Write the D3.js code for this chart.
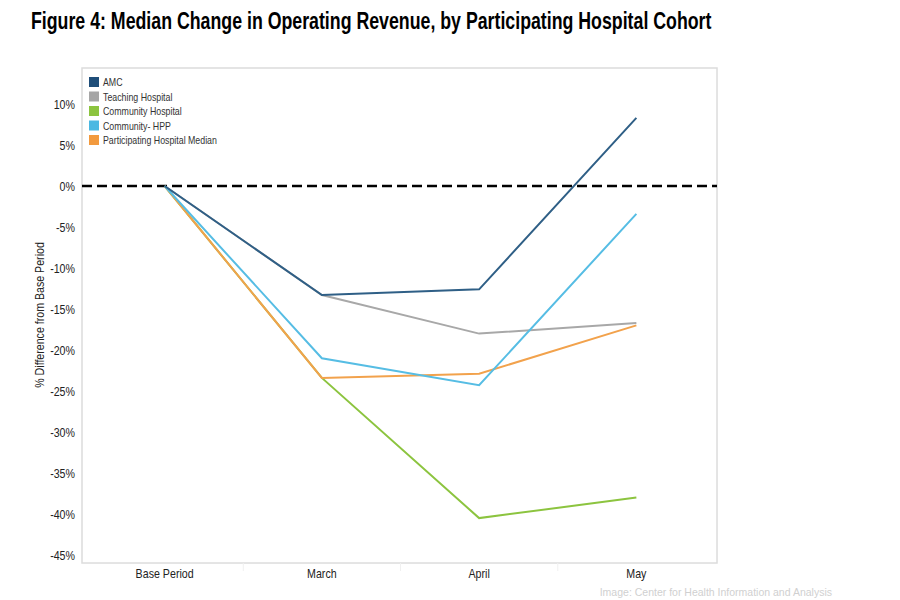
<!DOCTYPE html>
<html><head><meta charset="utf-8">
<script src="https://cdn.jsdelivr.net/npm/d3@7/dist/d3.min.js"></script>
<style>
body{margin:0;background:#fff;}
text{font-family:"Liberation Sans Narrow","Arial Narrow","Liberation Sans",Arial,sans-serif;}
</style></head><body>
<svg id="c" width="900" height="600"></svg>
<script>
const categories = ["Base Period","March","April","May"];
const seriesNames = ["AMC","Teaching Hospital","Community Hospital","Community- HPP","Participating Hospital Median"];
const amc = [0, -13.3, -12.6, 8.3];
const teaching = [0, -13.3, -18.0, -16.7];
const community = [0, -23.4, -40.5, -38.0];
const hpp = [0, -21.0, -24.3, -3.4];
const median = [0, -23.4, -22.9, -17.0];
const yTicks = [10,5,0,-5,-10,-15,-20,-25,-30,-35,-40,-45];
const colors = ["#2f5f86","#a8a8a8","#8cc43f","#56bde4","#f2a24c"];
const swatch = ["#1f4e79","#a6a6a6","#8cc43f","#4bb8e2","#f29a3e"];
const allSeries = [amc, teaching, community, hpp, median];

const svg = d3.select("#c");
const L=82, R=717, T=68, B=563;
const x = d3.scalePoint().domain(categories).range([L+4,R-2]).padding(0.5);
const y = d3.scaleLinear().domain([-45,10]).range([555,104]);
const SX = 0.82;
function narrow(sel, fx, fy){
  return sel.attr("transform",(d,i)=>`translate(${fx(d,i)},${fy(d,i)}) scale(${SX},1)`);
}

const title = svg.append("text").attr("font-size",23).attr("font-weight","bold")
  .attr("fill","#000")
  .text("Figure 4: Median Change in Operating Revenue, by Participating Hospital Cohort");
const tw = title.node().getComputedTextLength();
title.attr("transform",`translate(31,29) scale(${681/tw},1)`);

// frame
svg.append("rect").attr("x",L).attr("y",T).attr("width",R-L).attr("height",B-T)
  .attr("fill","none").attr("stroke","#dcdcdc").attr("stroke-width",1.5);

// y axis labels
narrow(svg.append("g").selectAll("text").data(yTicks).join("text"), d=>75, d=>y(d))
  .attr("dy","0.35em").attr("text-anchor","end")
  .attr("font-size",13).attr("fill","#222").text(d=>d+"%");

// x axis labels
narrow(svg.append("g").selectAll("text").data(categories).join("text"), d=>x(d), d=>578)
  .attr("text-anchor","middle")
  .attr("font-size",13).attr("fill","#222").text(d=>d);
const step = x.step();
svg.append("g").selectAll("line").data(categories.slice(1)).join("line")
  .attr("x1",d=>x(d)-step/2).attr("x2",d=>x(d)-step/2).attr("y1",B).attr("y2",B+8)
  .attr("stroke","#f0f0f0").attr("stroke-width",1);

// y label
svg.append("text").attr("transform","translate(44,315) rotate(-90) scale(0.85,1)").attr("text-anchor","middle")
  .attr("font-size",12.5).attr("fill","#222").text("% Difference from Base Period");

// zero line
svg.append("line").attr("x1",L).attr("x2",R).attr("y1",y(0)).attr("y2",y(0))
  .attr("stroke","#000").attr("stroke-width",2.5).attr("stroke-dasharray","10,5");

const line = d3.line().x((d,i)=>x(categories[i])).y(d=>y(d));
[1,2,4,3,0].forEach(k=>{
  svg.append("path").datum(allSeries[k]).attr("d",line).attr("fill","none")
    .attr("stroke",colors[k]).attr("stroke-width",2);
});

// legend
const lg = svg.append("g");
seriesNames.forEach((n,i)=>{
  lg.append("rect").attr("x",89).attr("y",77+i*14.5).attr("width",10).attr("height",10).attr("fill",swatch[i]);
  lg.append("text").attr("transform",`translate(103,${86+i*14.5}) scale(0.8,1)`)
    .attr("font-size",11).attr("fill","#333").text(n);
});

svg.append("text").attr("x",832).attr("y",596).attr("text-anchor","end").attr("font-size",10.5)
  .attr("fill","#d0d0d0").attr("font-family","Liberation Sans, Arial, sans-serif")
  .text("Image: Center for Health Information and Analysis");
</script></body></html>
